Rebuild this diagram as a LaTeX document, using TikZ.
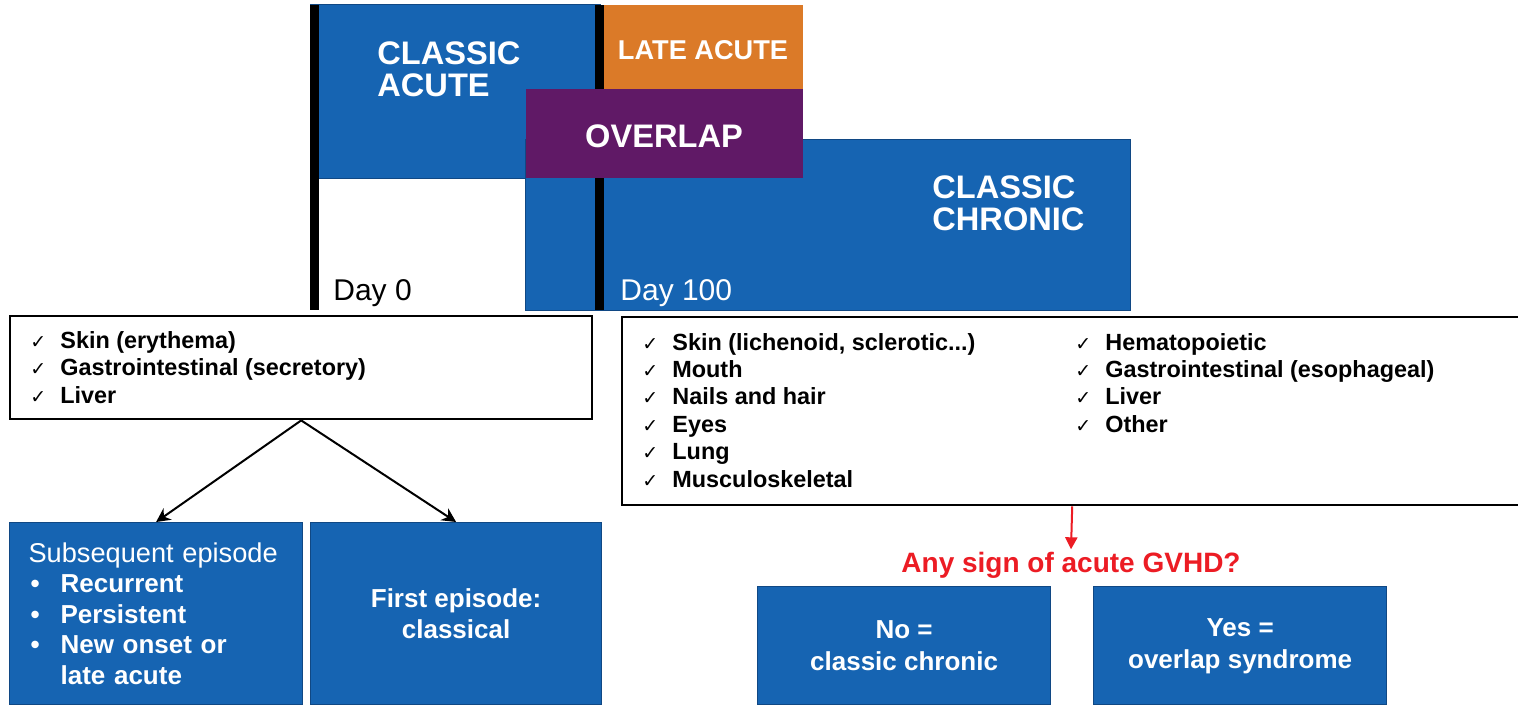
\documentclass[tikz,border=0pt]{standalone}
\usepackage{fontspec}
\setmainfont{Liberation Sans}
\newfontfamily\tickfont{DejaVu Sans}
\usetikzlibrary{arrows.meta}

\definecolor{gvblue}{RGB}{22,100,178}
\definecolor{gvedge}{RGB}{16,72,132}
\definecolor{gvorange}{RGB}{219,122,40}
\definecolor{gvpurple}{RGB}{96,25,102}
\definecolor{gvred}{RGB}{236,28,36}

\newcommand{\organtick}{\makebox[15pt][l]{\tickfont\fontsize{9.5}{9}\selectfont ✓}}

\begin{document}
\begin{tikzpicture}[x=0.5pt,y=-0.5pt,
  phase/.style={font=\bfseries\fontsize{16.3}{16}\selectfont,text=white,inner sep=0,align=left},
  day/.style={font=\fontsize{15}{15}\selectfont,inner sep=0,anchor=base west},
  item/.style={font=\bfseries\fontsize{11.7}{14}\selectfont,inner sep=0,anchor=base west},
  listbox/.style={draw,line width=1.2pt,anchor=north west,inner sep=0},
  bluebox/.style={fill=gvblue,draw=gvedge,line width=0.6pt,text=white,anchor=north west,
    inner sep=0,align=center,font=\bfseries\fontsize{13}{15.2}\selectfont},
  arr/.style={-{Stealth[length=7pt,width=7pt]},line width=1pt}]

\useasboundingbox (0,0) rectangle (1518,706);

% phases on the time line
\filldraw[fill=gvblue,draw=gvedge,line width=0.5pt] (310,5) rectangle (600,178);
\filldraw[fill=gvblue,draw=gvedge,line width=0.5pt] (525,139) rectangle (1130,310);
\fill[gvorange] (604,5) rectangle (803,89);
\fill[black] (310,5) rectangle (319,310);
\fill[black] (595,5) rectangle (604,310);
\fill[gvpurple] (526,89) rectangle (803,178);

\node[phase,anchor=north west] (acute) at (377,41) {CLASSIC\\ACUTE};
\node[phase,anchor=north west] (chronic) at (932,175) {CLASSIC\\CHRONIC};
\node[phase,font=\bfseries\fontsize{13.6}{14}\selectfont,anchor=base] (late) at (703,60) {LATE ACUTE};
\node[phase,anchor=base] (overlap) at (664,148) {OVERLAP};
\node[day] (day0) at (333,300) {Day 0};
\node[day,text=white] (day100) at (620,300) {Day 100};

% organs
\node[listbox,minimum width=291pt,minimum height=51.5pt] (acutelist) at (9,315) {};
\foreach \organ [count=\i] in {Skin (erythema),Gastrointestinal (secretory),Liver}
  \node[item] (a\i) at (30,{348+27.5*(\i-1)}) {\organtick\organ};

\node[listbox,minimum width=450pt,minimum height=94pt] (chroniclist) at (621,316) {};
\foreach \organ [count=\i] in {{Skin (lichenoid, sclerotic.{}.{}.)},Mouth,Nails and hair,Eyes,Lung,Musculoskeletal}
  \node[item] (c\i) at (642,{350+27.4*(\i-1)}) {\organtick\organ};
\foreach \organ [count=\i] in {Hematopoietic,Gastrointestinal (esophageal),Liver,Other}
  \node[item] (d\i) at (1075,{350+27.4*(\i-1)}) {\organtick\organ};

% acute branch
\node[bluebox,minimum width=146.5pt,minimum height=91pt,text width=127.5pt,align=left] (later) at (9,522)
  {{\mdseries\fontsize{13.6}{15.2}\selectfont Subsequent episode}\\
   \hspace*{1pt}\makebox[15pt][l]{\textbullet}Recurrent\\
   \hspace*{1pt}\makebox[15pt][l]{\textbullet}Persistent\\
   \hspace*{1pt}\makebox[15pt][l]{\textbullet}New onset or\\
   \hspace*{16pt}late acute};
\node[bluebox,minimum width=145.5pt,minimum height=91pt] (first) at (310,522) {First episode:\\classical};
\draw[arr] (acutelist.south) -- (later.north);
\draw[arr] (acutelist.south) -- (first.north);

% chronic branch
\node[font=\bfseries\fontsize{14}{14}\selectfont,text=gvred,inner sep=1pt,anchor=base] (question) at (1071,572)
  {Any sign of acute GVHD?};
\draw[gvred,line width=1pt,-{Triangle[length=6pt,width=6pt]}] (chroniclist.south) -- (question.north);
\node[bluebox,font=\bfseries\fontsize{13}{16}\selectfont,minimum width=146.5pt,minimum height=59pt] (nosign) at (757,586)
  {No =\\classic chronic};
\node[bluebox,font=\bfseries\fontsize{13}{16}\selectfont,minimum width=146.5pt,minimum height=59pt] (yessign) at (1093,586)
  {\strut Yes =\\overlap syndrome\strut};
\end{tikzpicture}
\end{document}
